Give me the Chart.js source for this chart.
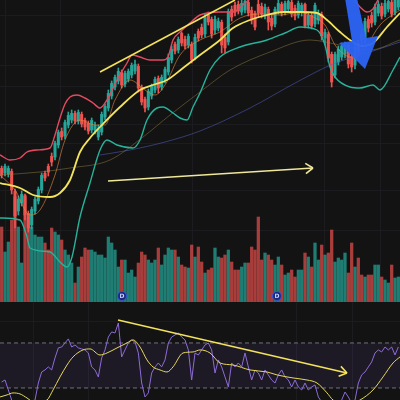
<!DOCTYPE html>
<html>
<head>
<meta charset="utf-8">
<script src="https://cdn.jsdelivr.net/npm/chart.js@4.4.1/dist/chart.umd.min.js"></script>
<style>
  html, body { margin: 0; padding: 0; background: #131313; width: 400px; height: 400px; overflow: hidden; }
  #main { position: absolute; left: 0; top: 0; }
  #rsi  { position: absolute; left: 0; top: 302px; }
</style>
</head>
<body>
<canvas id="main" width="400" height="302"></canvas>
<canvas id="rsi" width="400" height="98"></canvas>
<script>
// ── Data ────────────────────────────────────────────────────
// candles: [open, high, low, close]
const candles = [
  [231,234,222,225],[227,236,224,233],[226,234,223,231],[228,231,206,210],[208,211,172,184],
  [189,204,185,200],[197,209,194,205],[203,206,180,185],[186,189,168,172],[175,193,171,190],
  [189,203,186,200],[199,213,196,210],[210,227,207,224],[226,229,219,222],[233,236,224,228],
  [243,247,234,238],[243,259,240,256],[255,270,252,267],[268,272,260,263],[264,280,261,277],
  [275,288,272,284],[280,290,277,286],[286,289,276,279],[279,290,276,287],[285,288,273,276],
  [279,282,270,273],[276,279,266,269],[270,282,267,279],[270,278,266,274],[263,275,260,270],
  [268,288,265,285],[283,296,280,293],[292,310,289,306],[304,319,301,316],[313,325,310,322],
  [319,332,316,328],[327,330,312,315],[316,329,313,326],[321,331,318,328],[325,337,322,334],
  [329,340,326,335],[333,336,308,312],[312,315,295,298],[300,303,288,292],[293,311,290,308],
  [304,316,301,313],[310,323,307,320],[321,324,307,312],[313,325,310,322],[320,333,317,330],
  [328,346,325,342],[340,354,337,350],[355,358,346,349],[350,363,347,360],[366,368,354,357],
  [360,364,351,354],[355,366,352,363],[355,358,337,340],[342,366,340,362],[368,371,359,362],
  [372,376,362,365],[366,386,363,382],[384,388,375,378],[380,383,362,366],[370,384,366,380],
  [372,382,369,378],[377,380,347,355],[362,366,347,352],[358,391,355,388],[390,394,379,383],
  [394,398,384,388],[395,399,386,389],[388,400,385,396],[390,402,387,398],[397,400,384,387],
  [389,393,376,380],[386,389,370,373],[395,400,383,387],[393,397,382,386],[384,396,381,392],
  [390,393,370,378],[381,385,370,374],[376,393,373,390],[389,400,386,396],[395,398,384,387],
  [388,399,385,396],[391,402,388,398],[397,400,383,386],[391,395,380,384],[385,399,382,396],
  [388,397,384,394],[395,397,372,374],[375,388,372,384],[384,387,371,374],[376,397,373,394],
  [380,390,376,386],[385,388,360,364],[362,371,355,367],[365,368,338,342],[345,348,313,318],
  [325,348,322,345],[338,354,335,350],[343,357,340,353],[346,358,342,355],[354,357,332,336],
  [343,347,328,333],[335,356,331,352],[356,360,345,349],[366,370,355,360],[360,382,356,378],
  [380,384,368,372],[384,388,373,377],[378,396,375,392],[387,399,384,395],[393,397,381,384],
  [386,400,383,396],[391,402,388,398],[397,400,383,386],[388,403,385,399],[393,405,390,402]
];

const volumes = [
  75,50,60,82,105,75,39,107,85,75, 67,65,65,59,52,74,70,67,62,52,
  47,39,19,35,45,54,52,52,50,47, 47,44,65,59,52,35,42,42,29,32,
  25,39,50,47,42,39,42,54,37,47, 54,52,52,45,37,35,34,57,45,55,
  40,29,32,34,54,45,44,47,52,40, 32,32,35,39,39,55,52,85,42,49,
  47,42,37,45,37,27,29,32,25,32, 32,49,45,35,59,42,57,47,49,72,
  40,44,42,49,29,59,35,44,27,25, 27,27,37,37,25,22,19,37,24,25
];

// Bollinger bands and moving averages: [candle index, price]
const upperBand = [
  [-0.5,245],[2.5,240],[5.5,242],[7.6,248],[10.6,250],[14.5,252],[16,265],[17.5,282],[19,296],
  [20.5,303],[22.6,305],[25,302],[27.4,297],[29.5,292],[31.6,300],[34.6,320],[37.6,337],[39.1,345],
  [41.5,343],[44.5,340],[48.4,340],[49.9,343],[51.4,360],[53.5,368],[56.5,377],[59.5,385],[65.5,388],
  [69.4,388],[73,397],[77.5,408],[89.5,412],[101.5,408],[105.4,401],[107.5,393],[109.6,388],
  [111.4,391],[112.9,400],[116.5,410],[119.5,415]
];
const middleBand = [
  [-0.5,217],[5.5,212],[9.4,205],[14.5,203],[17.5,207],[20.5,220],[23.5,248],[26.5,262],[29.5,273],
  [35.5,293],[41.5,310],[45.4,315],[49.6,320],[54.4,332],[59.5,345],[65.5,360],[69.4,372],[74.5,380],
  [79.6,385],[84.4,388],[89.5,388],[94.6,387],[97.6,380],[101.5,368],[104.5,360],[108.1,354],
  [111.4,357],[115.6,373],[119.5,387]
];
const lowerBand = [
  [-0.5,182],[5.5,180],[7.6,163],[8.5,152],[14.5,148],[17.5,138],[19.6,133],[21.1,143],[23.5,183],
  [26.5,217],[29.5,250],[31.6,260],[34.6,255],[39.4,252],[41.5,260],[43.6,280],[46.6,292],[48.4,293],
  [51.4,287],[53.5,282],[55.6,280],[57.4,293],[59.5,307],[62.5,330],[65.5,343],[71.5,353],[79.6,360],
  [85,367],[89.5,373],[94.6,370],[97,355],[98.5,333],[100,323],[104.5,313],[107.5,312],[111.4,315],
  [113.5,310],[117.4,330],[119.5,343]
];
const fastMA = [
  [-0.5,225],[4,210],[8.5,185],[11.5,190],[16,225],[19,260],[23.5,280],[28,275],[31,275],[34,300],
  [38.5,320],[43,310],[46,305],[49,315],[53.5,345],[59.5,360],[65.5,368],[71.5,382],[77.5,386],
  [83.5,385],[89.5,388],[94,382],[97,375],[100,355],[103,345],[106,342],[109,352],[113.5,375],[119.5,390]
];
const midMA = [
  [-0.5,225],[11.5,228],[20.5,232],[32.5,240],[42.4,263],[50.5,285],[59.5,308],[68.5,330],
  [80.5,348],[92.5,360],[101.5,355],[110.5,350],[119.5,360]
];
const slowMA = [
  [29.5,245],[38.5,250],[49,258],[59.5,269],[74.5,292],[88.6,318],[99.4,336],[110.5,348],[119.5,358]
];

// drawn annotations: [candle index, price]
const channelLine = [[29.5,328],[70,400]];
const priceArrow  = [[31.9,219],[93.4,232]];
const blueArrow   = [[103,402],[105.1,359],[101.2,357],[109,331],[112.9,364],[109.3,362],[106.6,402]];
const dividends   = [36.1, 82.6];

// RSI pane
const rsiValues = [
  35.3,37.1,28.2,19.3,14,10.4,10.4,12.2,14.9,17.5, 19.3,34.4,44.2,46,48.7,46,56.7,65.6,66.4,70,
  73.6,66.4,68.2,65.6,64.7,63.8,61.1,48.7,46,39.8, 56.7,63.8,75.3,79.8,78.9,87.8,57.6,63.8,70,72.7,
  70.9,61.1,34.4,22,25.6,43.3,48.7,52.2,48.7,54.9, 70,75.3,77.1,78.9,75.3,72.7,63.8,37.1,61.1,59.3,
  63.8,68.2,70,63.8,43.3,54.9,48.7,39.8,30.9,52.2, 48.7,52.2,48.7,61.1,48.7,37.1,46,43.3,37.1,46,
  41.6,37.1,34.4,41.6,46,39.8,37.1,30.9,37.1,30.9, 28.2,34.4,28.2,30.9,32.7,22,17.5,12.2,10.4,8.7,
  10.4,14,19.3,26.4,22,16.7,19.3,34.4,41.6,44.2, 48.7,53.1,61.1,63.8,62,66.4,63.8,66.4,59.3,66.4
];
const rsiMA = [
  [-0.5,22],[1.6,23.8],[3.4,25.6],[5.5,24.7],[7.6,21.1],[10,16.7],[13.6,19.3],[15.4,28.2],[17.5,39.8],
  [19.6,50.4],[21.4,57.6],[24.4,63.8],[26.5,64.7],[29.5,59.3],[31.6,61.1],[34.6,65.6],[37.6,70],
  [39.4,72.7],[41.5,66.4],[43.6,54.9],[45.4,48.7],[47.5,46],[49.6,44.2],[51.4,48.7],[54.4,61.1],
  [57.4,62],[59.5,63.8],[62.5,61.1],[65.5,52.2],[69.4,50.4],[74.5,46],[79.6,44.2],[82.6,41.6],
  [87.4,38.9],[91.6,37.1],[94.6,34.4],[97.6,25.6],[99.4,19.3],[103,14],[107.5,19.3],[111.4,28.2],
  [114.4,39.8],[117.4,52.2],[119.5,57.6]
];
const rsiTrend  = [[34.9,90.4],[103.6,43.3]];
const rsiLevels = [70, 30];

// grid positions
const gridIdx   = [9.4, 25.9, 88.3, 105.1];
const priceGrid = [385, 335, 314, 276, 257, 210, 170];
const rsiGrid   = [88.7];

// ── Styles ───────────────────────────────────────────────────
const UP = '#26a69a', DOWN = '#ef5350';
const VOL_UP = 'rgba(38,166,154,0.72)', VOL_DOWN = 'rgba(239,83,80,0.68)';
const GRID = '#1c1c20';
const YELLOW = '#f2e25c';

const pts = (arr) => arr.map(([x, y]) => ({ x, y }));
const isUp = (c) => c[3] >= c[0];

// ── Plugins ──────────────────────────────────────────────────
const arrowHeads = {
    id: 'arrowHeads',
    afterDatasetsDraw(chart) {
        const ctx = chart.ctx;
        chart.data.datasets.forEach((ds, i) => {
            if (!ds.arrowHead) return;
            const data = chart.getDatasetMeta(i).data;
            const a = data[data.length - 2], b = data[data.length - 1];
            const ang = Math.atan2(b.y - a.y, b.x - a.x);
            ctx.save();
            ctx.strokeStyle = ds.borderColor;
            ctx.lineWidth = ds.borderWidth;
            ctx.beginPath();
            [-1, 1].forEach(s => {
                ctx.moveTo(b.x, b.y);
                ctx.lineTo(b.x - 9 * Math.cos(ang + s * 0.6), b.y - 9 * Math.sin(ang + s * 0.6));
            });
            ctx.stroke();
            ctx.restore();
        });
    }
};

const overlay = {
    id: 'overlay',
    afterDatasetsDraw(chart) {
        const { ctx, scales: { x, y } } = chart;
        // blue arrow
        ctx.save();
        ctx.beginPath();
        blueArrow.forEach(([i, p], k) => {
            const px = x.getPixelForValue(i), py = y.getPixelForValue(p);
            k ? ctx.lineTo(px, py) : ctx.moveTo(px, py);
        });
        ctx.closePath();
        ctx.fillStyle = 'rgba(45,100,245,0.96)';
        ctx.fill();
        ctx.restore();

        // dividend labels
        chart.data.datasets.forEach((ds, i) => {
            if (!ds.divMarker) return;
            chart.getDatasetMeta(i).data.forEach(pt => {
                ctx.save();
                ctx.fillStyle = '#c8d0ff';
                ctx.font = 'bold 6px "DejaVu Sans"';
                ctx.textAlign = 'center';
                ctx.textBaseline = 'middle';
                ctx.fillText('D', pt.x, pt.y + 0.5);
                ctx.restore();
            });
        });
    }
};

// axes show only their grid lines and take no room
const hiddenAxis = (extra) => Object.assign({
    grid: { color: GRID, drawTicks: false },
    border: { display: false },
    ticks: { display: false },
    afterFit: (s) => { if (s.isHorizontal()) s.height = 0; else s.width = 0; }
}, extra);

const xAxis = hiddenAxis({
    type: 'linear', min: -0.5, max: 119.5, offset: false,
    afterBuildTicks: (s) => { s.ticks = gridIdx.map(v => ({ value: v })); }
});

const lineDs = (data, color, width, extra) => Object.assign({
    type: 'line', data: pts(data), borderColor: color, borderWidth: width,
    pointRadius: 0, fill: false, tension: 0.4, cubicInterpolationMode: 'monotone', yAxisID: 'y'
}, extra);

// ── Main price pane ──────────────────────────────────────────
new Chart(document.getElementById('main'), {
    type: 'bar',
    data: {
        datasets: [
            {
                type: 'bar', yAxisID: 'yVol', order: 30, grouped: false,
                data: volumes.map((v, i) => ({ x: i, y: v })),
                backgroundColor: candles.map(c => isUp(c) ? VOL_UP : VOL_DOWN),
                barThickness: 2.6
            },
            {
                type: 'bar', yAxisID: 'y', order: 20, grouped: false,
                data: candles.map((c, i) => ({ x: i, y: [c[2], c[1]] })),
                backgroundColor: candles.map(c => isUp(c) ? UP : DOWN),
                barThickness: 1
            },
            {
                type: 'bar', yAxisID: 'y', order: 19, grouped: false,
                data: candles.map((c, i) => ({ x: i, y: [Math.min(c[0], c[3]), Math.max(c[0], c[3]) + 0.6] })),
                backgroundColor: candles.map(c => isUp(c) ? UP : DOWN),
                barThickness: 2.4
            },
            lineDs(slowMA, 'rgba(80,95,190,0.55)', 1, { order: 9 }),
            lineDs(midMA, 'rgba(160,135,70,0.45)', 1, { order: 8 }),
            lineDs(fastMA, 'rgba(225,135,60,0.7)', 0.9, { order: 7 }),
            lineDs(lowerBand, '#27b39b', 1.4, { order: 6 }),
            lineDs(upperBand, '#e34a60', 1.4, { order: 5 }),
            lineDs(middleBand, YELLOW, 1.8, { order: 4 }),
            lineDs(channelLine, YELLOW, 1.6, { order: 2, tension: 0 }),
            lineDs(priceArrow, '#efe79a', 1.6, { order: 1, tension: 0, arrowHead: true }),
            {
                type: 'line', yAxisID: 'yVol', order: 0, showLine: false, divMarker: true,
                data: dividends.map(x => ({ x, y: 6 })),
                pointRadius: 4.5, pointBackgroundColor: '#1a2878',
                pointBorderColor: '#3456d8', pointBorderWidth: 1.2
            }
        ]
    },
    options: {
        responsive: false, animation: false,
        layout: { padding: 0, autoPadding: false },
        plugins: { legend: { display: false }, tooltip: { enabled: false } },
        scales: {
            x: xAxis,
            y: hiddenAxis({
                position: 'right', min: 98, max: 400,
                afterBuildTicks: (s) => { s.ticks = priceGrid.map(v => ({ value: v })); }
            }),
            yVol: { display: false, min: 0, max: 302 }
        }
    },
    plugins: [arrowHeads, overlay]
});

// ── RSI pane ─────────────────────────────────────────────────
new Chart(document.getElementById('rsi'), {
    type: 'line',
    data: {
        datasets: [
            {
                data: pts([[-0.5, rsiLevels[0]], [119.5, rsiLevels[0]]]),
                borderColor: '#70707e', borderWidth: 1, borderDash: [4, 3],
                pointRadius: 0, fill: { value: rsiLevels[1] },
                backgroundColor: 'rgba(126,87,194,0.11)', order: 9
            },
            {
                data: pts([[-0.5, rsiLevels[1]], [119.5, rsiLevels[1]]]),
                borderColor: '#70707e', borderWidth: 1, borderDash: [4, 3],
                pointRadius: 0, fill: false, order: 8
            },
            {
                data: rsiValues.map((v, i) => ({ x: i, y: v })),
                borderColor: '#8d6bd8', borderWidth: 1, pointRadius: 0, tension: 0, order: 3
            },
            {
                data: pts(rsiMA), borderColor: '#e6d75a', borderWidth: 1, pointRadius: 0,
                tension: 0.4, cubicInterpolationMode: 'monotone', order: 2
            },
            {
                data: pts(rsiTrend), borderColor: YELLOW, borderWidth: 1.6, pointRadius: 0,
                tension: 0, order: 1, arrowHead: true
            }
        ]
    },
    options: {
        responsive: false, animation: false,
        layout: { padding: 0, autoPadding: false },
        plugins: { legend: { display: false }, tooltip: { enabled: false } },
        scales: {
            x: xAxis,
            y: hiddenAxis({
                position: 'right', min: 19.3, max: 106.4,
                afterBuildTicks: (s) => { s.ticks = rsiGrid.map(v => ({ value: v })); }
            })
        }
    },
    plugins: [arrowHeads]
});
</script>
</body>
</html>
